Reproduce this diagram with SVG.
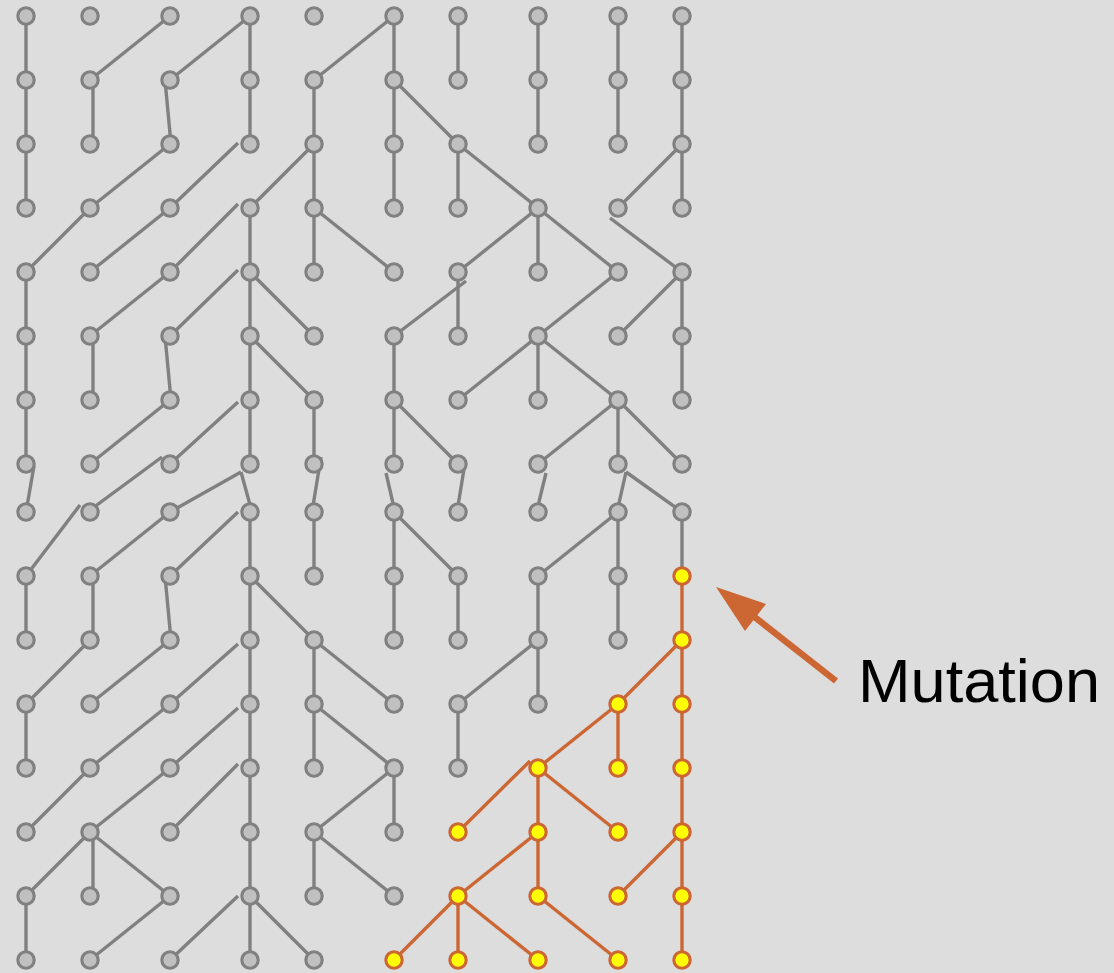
<svg xmlns="http://www.w3.org/2000/svg" width="1114" height="973" viewBox="0 0 1114 973">
<style>
.e line{stroke:#808080;stroke-width:3.4;stroke-linecap:butt}
.m line{stroke:#cc6633;stroke-width:3.4}
.n circle{fill:#c0c0c0;stroke:#808080;stroke-width:3.1}
.y circle{fill:#ffff00;stroke:#cc6633;stroke-width:3.1}
.lbl{font-family:"Liberation Sans",Arial,sans-serif;font-size:62px;fill:#000}
</style>
<rect width="1114" height="973" fill="#dddddd"/>
<g id="connectors">
<g class="e">
<line x1="26" y1="16" x2="26" y2="80"/><line x1="170" y1="16" x2="90" y2="80"/><line x1="250" y1="16" x2="170" y2="80"/><line x1="250" y1="16" x2="250" y2="80"/><line x1="394" y1="16" x2="314" y2="80"/><line x1="394" y1="16" x2="394" y2="80"/><line x1="458" y1="16" x2="458" y2="80"/><line x1="538" y1="16" x2="538" y2="80"/><line x1="618" y1="16" x2="618" y2="80"/><line x1="682" y1="16" x2="682" y2="80"/>
<line x1="26" y1="80" x2="26" y2="144"/><line x1="93" y1="80" x2="93" y2="144"/><line x1="165" y1="80" x2="171" y2="144"/><line x1="250" y1="80" x2="250" y2="144"/><line x1="314" y1="80" x2="314" y2="144"/><line x1="394" y1="80" x2="394" y2="144"/><line x1="394" y1="80" x2="458" y2="144"/><line x1="538" y1="80" x2="538" y2="144"/><line x1="618" y1="80" x2="618" y2="144"/><line x1="682" y1="80" x2="682" y2="144"/>
<line x1="26" y1="144" x2="26" y2="208"/><line x1="170" y1="144" x2="90" y2="208"/><line x1="238" y1="143" x2="170" y2="208"/><line x1="314" y1="144" x2="250" y2="208"/><line x1="314" y1="144" x2="314" y2="208"/><line x1="394" y1="144" x2="394" y2="208"/><line x1="458" y1="144" x2="458" y2="208"/><line x1="458" y1="144" x2="538" y2="208"/><line x1="682" y1="144" x2="618" y2="208"/><line x1="682" y1="144" x2="682" y2="208"/>
<line x1="90" y1="208" x2="26" y2="272"/><line x1="170" y1="208" x2="90" y2="272"/><line x1="238" y1="204" x2="170" y2="272"/><line x1="250" y1="208" x2="250" y2="272"/><line x1="314" y1="208" x2="314" y2="272"/><line x1="314" y1="208" x2="394" y2="272"/><line x1="538" y1="208" x2="458" y2="272"/><line x1="538" y1="208" x2="538" y2="272"/><line x1="538" y1="208" x2="618" y2="272"/><line x1="610" y1="218" x2="682" y2="272"/>
<line x1="26" y1="272" x2="26" y2="336"/><line x1="170" y1="272" x2="90" y2="336"/><line x1="238" y1="270" x2="170" y2="336"/><line x1="250" y1="272" x2="250" y2="336"/><line x1="250" y1="272" x2="314" y2="336"/><line x1="466" y1="281" x2="394" y2="336"/><line x1="458" y1="272" x2="458" y2="336"/><line x1="618" y1="272" x2="538" y2="336"/><line x1="682" y1="272" x2="618" y2="336"/><line x1="682" y1="272" x2="682" y2="336"/>
<line x1="26" y1="336" x2="26" y2="400"/><line x1="93" y1="336" x2="93" y2="400"/><line x1="165" y1="336" x2="171" y2="400"/><line x1="250" y1="336" x2="250" y2="400"/><line x1="250" y1="336" x2="314" y2="400"/><line x1="394" y1="336" x2="394" y2="400"/><line x1="538" y1="336" x2="458" y2="400"/><line x1="538" y1="336" x2="538" y2="400"/><line x1="538" y1="336" x2="618" y2="400"/><line x1="682" y1="336" x2="682" y2="400"/>
<line x1="26" y1="400" x2="26" y2="464"/><line x1="170" y1="400" x2="90" y2="464"/><line x1="238" y1="402" x2="170" y2="464"/><line x1="250" y1="400" x2="250" y2="464"/><line x1="314" y1="400" x2="314" y2="464"/><line x1="394" y1="400" x2="394" y2="464"/><line x1="394" y1="400" x2="458" y2="464"/><line x1="618" y1="400" x2="538" y2="464"/><line x1="618" y1="400" x2="618" y2="464"/><line x1="618" y1="400" x2="682" y2="464"/>
<line x1="34" y1="466" x2="26" y2="512"/><line x1="162" y1="457" x2="90" y2="510"/><line x1="241" y1="472" x2="170" y2="512"/><line x1="241" y1="472" x2="252" y2="512"/><line x1="321" y1="457" x2="312" y2="512"/><line x1="386" y1="473" x2="395" y2="512"/><line x1="465" y1="463" x2="457" y2="512"/><line x1="546" y1="473" x2="537" y2="510"/><line x1="626" y1="472" x2="617" y2="512"/><line x1="626" y1="472" x2="682" y2="512"/>
<line x1="80" y1="505" x2="26" y2="576"/><line x1="170" y1="512" x2="90" y2="576"/><line x1="238" y1="512" x2="170" y2="576"/><line x1="250" y1="512" x2="250" y2="576"/><line x1="314" y1="512" x2="314" y2="576"/><line x1="394" y1="512" x2="394" y2="576"/><line x1="394" y1="512" x2="458" y2="576"/><line x1="618" y1="512" x2="538" y2="576"/><line x1="618" y1="512" x2="618" y2="576"/><line x1="682" y1="512" x2="682" y2="576"/>
<line x1="26" y1="576" x2="26" y2="640"/><line x1="93" y1="576" x2="93" y2="640"/><line x1="165" y1="576" x2="171" y2="640"/><line x1="250" y1="576" x2="250" y2="640"/><line x1="250" y1="576" x2="314" y2="640"/><line x1="394" y1="576" x2="394" y2="640"/><line x1="458" y1="576" x2="458" y2="640"/><line x1="538" y1="576" x2="538" y2="640"/><line x1="618" y1="576" x2="618" y2="640"/>
<line x1="90" y1="640" x2="26" y2="704"/><line x1="170" y1="640" x2="90" y2="704"/><line x1="238" y1="644" x2="170" y2="704"/><line x1="250" y1="640" x2="250" y2="704"/><line x1="314" y1="640" x2="314" y2="704"/><line x1="314" y1="640" x2="394" y2="704"/><line x1="538" y1="640" x2="458" y2="704"/><line x1="538" y1="640" x2="538" y2="704"/>
<line x1="26" y1="704" x2="26" y2="768"/><line x1="170" y1="704" x2="90" y2="768"/><line x1="238" y1="708" x2="170" y2="768"/><line x1="250" y1="704" x2="250" y2="768"/><line x1="314" y1="704" x2="314" y2="768"/><line x1="314" y1="704" x2="394" y2="768"/><line x1="458" y1="704" x2="458" y2="768"/>
<line x1="90" y1="768" x2="26" y2="832"/><line x1="170" y1="768" x2="90" y2="832"/><line x1="238" y1="764" x2="170" y2="832"/><line x1="250" y1="768" x2="250" y2="832"/><line x1="394" y1="768" x2="314" y2="832"/><line x1="394" y1="768" x2="394" y2="832"/>
<line x1="90" y1="832" x2="26" y2="896"/><line x1="93" y1="832" x2="93" y2="896"/><line x1="90" y1="832" x2="170" y2="896"/><line x1="250" y1="832" x2="250" y2="896"/><line x1="314" y1="832" x2="314" y2="896"/><line x1="314" y1="832" x2="394" y2="896"/>
<line x1="26" y1="896" x2="26" y2="960"/><line x1="170" y1="896" x2="90" y2="960"/><line x1="238" y1="896" x2="170" y2="960"/><line x1="250" y1="896" x2="250" y2="960"/><line x1="250" y1="896" x2="314" y2="960"/>
</g>
<g class="m">
<line x1="682" y1="576" x2="682" y2="640"/>
<line x1="682" y1="640" x2="618" y2="704"/><line x1="682" y1="640" x2="682" y2="704"/>
<line x1="618" y1="704" x2="538" y2="768"/><line x1="618" y1="704" x2="618" y2="768"/><line x1="682" y1="704" x2="682" y2="768"/>
<line x1="530" y1="761" x2="458" y2="832"/><line x1="538" y1="768" x2="538" y2="832"/><line x1="538" y1="768" x2="618" y2="832"/><line x1="682" y1="768" x2="682" y2="832"/>
<line x1="538" y1="832" x2="458" y2="896"/><line x1="538" y1="832" x2="538" y2="896"/><line x1="682" y1="832" x2="618" y2="896"/><line x1="682" y1="832" x2="682" y2="896"/>
<line x1="458" y1="896" x2="394" y2="960"/><line x1="458" y1="896" x2="458" y2="960"/><line x1="458" y1="896" x2="538" y2="960"/><line x1="538" y1="896" x2="618" y2="960"/><line x1="682" y1="896" x2="682" y2="960"/>
</g>
</g>
<g id="nodes">
<g id="n0_0" class="n"><circle cx="26" cy="16" r="8.2"/></g><g id="n0_1" class="n"><circle cx="90" cy="16" r="8.2"/></g><g id="n0_2" class="n"><circle cx="170" cy="16" r="8.2"/></g><g id="n0_3" class="n"><circle cx="250" cy="16" r="8.2"/></g><g id="n0_4" class="n"><circle cx="314" cy="16" r="8.2"/></g><g id="n0_5" class="n"><circle cx="394" cy="16" r="8.2"/></g><g id="n0_6" class="n"><circle cx="458" cy="16" r="8.2"/></g><g id="n0_7" class="n"><circle cx="538" cy="16" r="8.2"/></g><g id="n0_8" class="n"><circle cx="618" cy="16" r="8.2"/></g><g id="n0_9" class="n"><circle cx="682" cy="16" r="8.2"/></g>
<g id="n1_0" class="n"><circle cx="26" cy="80" r="8.2"/></g><g id="n1_1" class="n"><circle cx="90" cy="80" r="8.2"/></g><g id="n1_2" class="n"><circle cx="170" cy="80" r="8.2"/></g><g id="n1_3" class="n"><circle cx="250" cy="80" r="8.2"/></g><g id="n1_4" class="n"><circle cx="314" cy="80" r="8.2"/></g><g id="n1_5" class="n"><circle cx="394" cy="80" r="8.2"/></g><g id="n1_6" class="n"><circle cx="458" cy="80" r="8.2"/></g><g id="n1_7" class="n"><circle cx="538" cy="80" r="8.2"/></g><g id="n1_8" class="n"><circle cx="618" cy="80" r="8.2"/></g><g id="n1_9" class="n"><circle cx="682" cy="80" r="8.2"/></g>
<g id="n2_0" class="n"><circle cx="26" cy="144" r="8.2"/></g><g id="n2_1" class="n"><circle cx="90" cy="144" r="8.2"/></g><g id="n2_2" class="n"><circle cx="170" cy="144" r="8.2"/></g><g id="n2_3" class="n"><circle cx="250" cy="144" r="8.2"/></g><g id="n2_4" class="n"><circle cx="314" cy="144" r="8.2"/></g><g id="n2_5" class="n"><circle cx="394" cy="144" r="8.2"/></g><g id="n2_6" class="n"><circle cx="458" cy="144" r="8.2"/></g><g id="n2_7" class="n"><circle cx="538" cy="144" r="8.2"/></g><g id="n2_8" class="n"><circle cx="618" cy="144" r="8.2"/></g><g id="n2_9" class="n"><circle cx="682" cy="144" r="8.2"/></g>
<g id="n3_0" class="n"><circle cx="26" cy="208" r="8.2"/></g><g id="n3_1" class="n"><circle cx="90" cy="208" r="8.2"/></g><g id="n3_2" class="n"><circle cx="170" cy="208" r="8.2"/></g><g id="n3_3" class="n"><circle cx="250" cy="208" r="8.2"/></g><g id="n3_4" class="n"><circle cx="314" cy="208" r="8.2"/></g><g id="n3_5" class="n"><circle cx="394" cy="208" r="8.2"/></g><g id="n3_6" class="n"><circle cx="458" cy="208" r="8.2"/></g><g id="n3_7" class="n"><circle cx="538" cy="208" r="8.2"/></g><g id="n3_8" class="n"><circle cx="618" cy="208" r="8.2"/></g><g id="n3_9" class="n"><circle cx="682" cy="208" r="8.2"/></g>
<g id="n4_0" class="n"><circle cx="26" cy="272" r="8.2"/></g><g id="n4_1" class="n"><circle cx="90" cy="272" r="8.2"/></g><g id="n4_2" class="n"><circle cx="170" cy="272" r="8.2"/></g><g id="n4_3" class="n"><circle cx="250" cy="272" r="8.2"/></g><g id="n4_4" class="n"><circle cx="314" cy="272" r="8.2"/></g><g id="n4_5" class="n"><circle cx="394" cy="272" r="8.2"/></g><g id="n4_6" class="n"><circle cx="458" cy="272" r="8.2"/></g><g id="n4_7" class="n"><circle cx="538" cy="272" r="8.2"/></g><g id="n4_8" class="n"><circle cx="618" cy="272" r="8.2"/></g><g id="n4_9" class="n"><circle cx="682" cy="272" r="8.2"/></g>
<g id="n5_0" class="n"><circle cx="26" cy="336" r="8.2"/></g><g id="n5_1" class="n"><circle cx="90" cy="336" r="8.2"/></g><g id="n5_2" class="n"><circle cx="170" cy="336" r="8.2"/></g><g id="n5_3" class="n"><circle cx="250" cy="336" r="8.2"/></g><g id="n5_4" class="n"><circle cx="314" cy="336" r="8.2"/></g><g id="n5_5" class="n"><circle cx="394" cy="336" r="8.2"/></g><g id="n5_6" class="n"><circle cx="458" cy="336" r="8.2"/></g><g id="n5_7" class="n"><circle cx="538" cy="336" r="8.2"/></g><g id="n5_8" class="n"><circle cx="618" cy="336" r="8.2"/></g><g id="n5_9" class="n"><circle cx="682" cy="336" r="8.2"/></g>
<g id="n6_0" class="n"><circle cx="26" cy="400" r="8.2"/></g><g id="n6_1" class="n"><circle cx="90" cy="400" r="8.2"/></g><g id="n6_2" class="n"><circle cx="170" cy="400" r="8.2"/></g><g id="n6_3" class="n"><circle cx="250" cy="400" r="8.2"/></g><g id="n6_4" class="n"><circle cx="314" cy="400" r="8.2"/></g><g id="n6_5" class="n"><circle cx="394" cy="400" r="8.2"/></g><g id="n6_6" class="n"><circle cx="458" cy="400" r="8.2"/></g><g id="n6_7" class="n"><circle cx="538" cy="400" r="8.2"/></g><g id="n6_8" class="n"><circle cx="618" cy="400" r="8.2"/></g><g id="n6_9" class="n"><circle cx="682" cy="400" r="8.2"/></g>
<g id="n7_0" class="n"><circle cx="26" cy="464" r="8.2"/></g><g id="n7_1" class="n"><circle cx="90" cy="464" r="8.2"/></g><g id="n7_2" class="n"><circle cx="170" cy="464" r="8.2"/></g><g id="n7_3" class="n"><circle cx="250" cy="464" r="8.2"/></g><g id="n7_4" class="n"><circle cx="314" cy="464" r="8.2"/></g><g id="n7_5" class="n"><circle cx="394" cy="464" r="8.2"/></g><g id="n7_6" class="n"><circle cx="458" cy="464" r="8.2"/></g><g id="n7_7" class="n"><circle cx="538" cy="464" r="8.2"/></g><g id="n7_8" class="n"><circle cx="618" cy="464" r="8.2"/></g><g id="n7_9" class="n"><circle cx="682" cy="464" r="8.2"/></g>
<g id="n8_0" class="n"><circle cx="26" cy="512" r="8.2"/></g><g id="n8_1" class="n"><circle cx="90" cy="512" r="8.2"/></g><g id="n8_2" class="n"><circle cx="170" cy="512" r="8.2"/></g><g id="n8_3" class="n"><circle cx="250" cy="512" r="8.2"/></g><g id="n8_4" class="n"><circle cx="314" cy="512" r="8.2"/></g><g id="n8_5" class="n"><circle cx="394" cy="512" r="8.2"/></g><g id="n8_6" class="n"><circle cx="458" cy="512" r="8.2"/></g><g id="n8_7" class="n"><circle cx="538" cy="512" r="8.2"/></g><g id="n8_8" class="n"><circle cx="618" cy="512" r="8.2"/></g><g id="n8_9" class="n"><circle cx="682" cy="512" r="8.2"/></g>
<g id="n9_0" class="n"><circle cx="26" cy="576" r="8.2"/></g><g id="n9_1" class="n"><circle cx="90" cy="576" r="8.2"/></g><g id="n9_2" class="n"><circle cx="170" cy="576" r="8.2"/></g><g id="n9_3" class="n"><circle cx="250" cy="576" r="8.2"/></g><g id="n9_4" class="n"><circle cx="314" cy="576" r="8.2"/></g><g id="n9_5" class="n"><circle cx="394" cy="576" r="8.2"/></g><g id="n9_6" class="n"><circle cx="458" cy="576" r="8.2"/></g><g id="n9_7" class="n"><circle cx="538" cy="576" r="8.2"/></g><g id="n9_8" class="n"><circle cx="618" cy="576" r="8.2"/></g><g id="n9_9" class="y"><circle cx="682" cy="576" r="8.2"/></g>
<g id="n10_0" class="n"><circle cx="26" cy="640" r="8.2"/></g><g id="n10_1" class="n"><circle cx="90" cy="640" r="8.2"/></g><g id="n10_2" class="n"><circle cx="170" cy="640" r="8.2"/></g><g id="n10_3" class="n"><circle cx="250" cy="640" r="8.2"/></g><g id="n10_4" class="n"><circle cx="314" cy="640" r="8.2"/></g><g id="n10_5" class="n"><circle cx="394" cy="640" r="8.2"/></g><g id="n10_6" class="n"><circle cx="458" cy="640" r="8.2"/></g><g id="n10_7" class="n"><circle cx="538" cy="640" r="8.2"/></g><g id="n10_8" class="n"><circle cx="618" cy="640" r="8.2"/></g><g id="n10_9" class="y"><circle cx="682" cy="640" r="8.2"/></g>
<g id="n11_0" class="n"><circle cx="26" cy="704" r="8.2"/></g><g id="n11_1" class="n"><circle cx="90" cy="704" r="8.2"/></g><g id="n11_2" class="n"><circle cx="170" cy="704" r="8.2"/></g><g id="n11_3" class="n"><circle cx="250" cy="704" r="8.2"/></g><g id="n11_4" class="n"><circle cx="314" cy="704" r="8.2"/></g><g id="n11_5" class="n"><circle cx="394" cy="704" r="8.2"/></g><g id="n11_6" class="n"><circle cx="458" cy="704" r="8.2"/></g><g id="n11_7" class="n"><circle cx="538" cy="704" r="8.2"/></g><g id="n11_8" class="y"><circle cx="618" cy="704" r="8.2"/></g><g id="n11_9" class="y"><circle cx="682" cy="704" r="8.2"/></g>
<g id="n12_0" class="n"><circle cx="26" cy="768" r="8.2"/></g><g id="n12_1" class="n"><circle cx="90" cy="768" r="8.2"/></g><g id="n12_2" class="n"><circle cx="170" cy="768" r="8.2"/></g><g id="n12_3" class="n"><circle cx="250" cy="768" r="8.2"/></g><g id="n12_4" class="n"><circle cx="314" cy="768" r="8.2"/></g><g id="n12_5" class="n"><circle cx="394" cy="768" r="8.2"/></g><g id="n12_6" class="n"><circle cx="458" cy="768" r="8.2"/></g><g id="n12_7" class="y"><circle cx="538" cy="768" r="8.2"/></g><g id="n12_8" class="y"><circle cx="618" cy="768" r="8.2"/></g><g id="n12_9" class="y"><circle cx="682" cy="768" r="8.2"/></g>
<g id="n13_0" class="n"><circle cx="26" cy="832" r="8.2"/></g><g id="n13_1" class="n"><circle cx="90" cy="832" r="8.2"/></g><g id="n13_2" class="n"><circle cx="170" cy="832" r="8.2"/></g><g id="n13_3" class="n"><circle cx="250" cy="832" r="8.2"/></g><g id="n13_4" class="n"><circle cx="314" cy="832" r="8.2"/></g><g id="n13_5" class="n"><circle cx="394" cy="832" r="8.2"/></g><g id="n13_6" class="y"><circle cx="458" cy="832" r="8.2"/></g><g id="n13_7" class="y"><circle cx="538" cy="832" r="8.2"/></g><g id="n13_8" class="y"><circle cx="618" cy="832" r="8.2"/></g><g id="n13_9" class="y"><circle cx="682" cy="832" r="8.2"/></g>
<g id="n14_0" class="n"><circle cx="26" cy="896" r="8.2"/></g><g id="n14_1" class="n"><circle cx="90" cy="896" r="8.2"/></g><g id="n14_2" class="n"><circle cx="170" cy="896" r="8.2"/></g><g id="n14_3" class="n"><circle cx="250" cy="896" r="8.2"/></g><g id="n14_4" class="n"><circle cx="314" cy="896" r="8.2"/></g><g id="n14_5" class="n"><circle cx="394" cy="896" r="8.2"/></g><g id="n14_6" class="y"><circle cx="458" cy="896" r="8.2"/></g><g id="n14_7" class="y"><circle cx="538" cy="896" r="8.2"/></g><g id="n14_8" class="y"><circle cx="618" cy="896" r="8.2"/></g><g id="n14_9" class="y"><circle cx="682" cy="896" r="8.2"/></g>
<g id="n15_0" class="n"><circle cx="26" cy="960" r="8.2"/></g><g id="n15_1" class="n"><circle cx="90" cy="960" r="8.2"/></g><g id="n15_2" class="n"><circle cx="170" cy="960" r="8.2"/></g><g id="n15_3" class="n"><circle cx="250" cy="960" r="8.2"/></g><g id="n15_4" class="n"><circle cx="314" cy="960" r="8.2"/></g><g id="n15_5" class="y"><circle cx="394" cy="960" r="8.2"/></g><g id="n15_6" class="y"><circle cx="458" cy="960" r="8.2"/></g><g id="n15_7" class="y"><circle cx="538" cy="960" r="8.2"/></g><g id="n15_8" class="y"><circle cx="618" cy="960" r="8.2"/></g><g id="n15_9" class="y"><circle cx="682" cy="960" r="8.2"/></g>
</g>
<g id="mutation-label">
<line x1="836" y1="681" x2="752" y2="615" stroke="#cc6633" stroke-width="6.5"/>
<polygon points="716,587 766,604 745,631" fill="#cc6633"/>
<text class="lbl" x="858" y="702" textLength="242" lengthAdjust="spacingAndGlyphs">Mutation</text>
</g>
</svg>
